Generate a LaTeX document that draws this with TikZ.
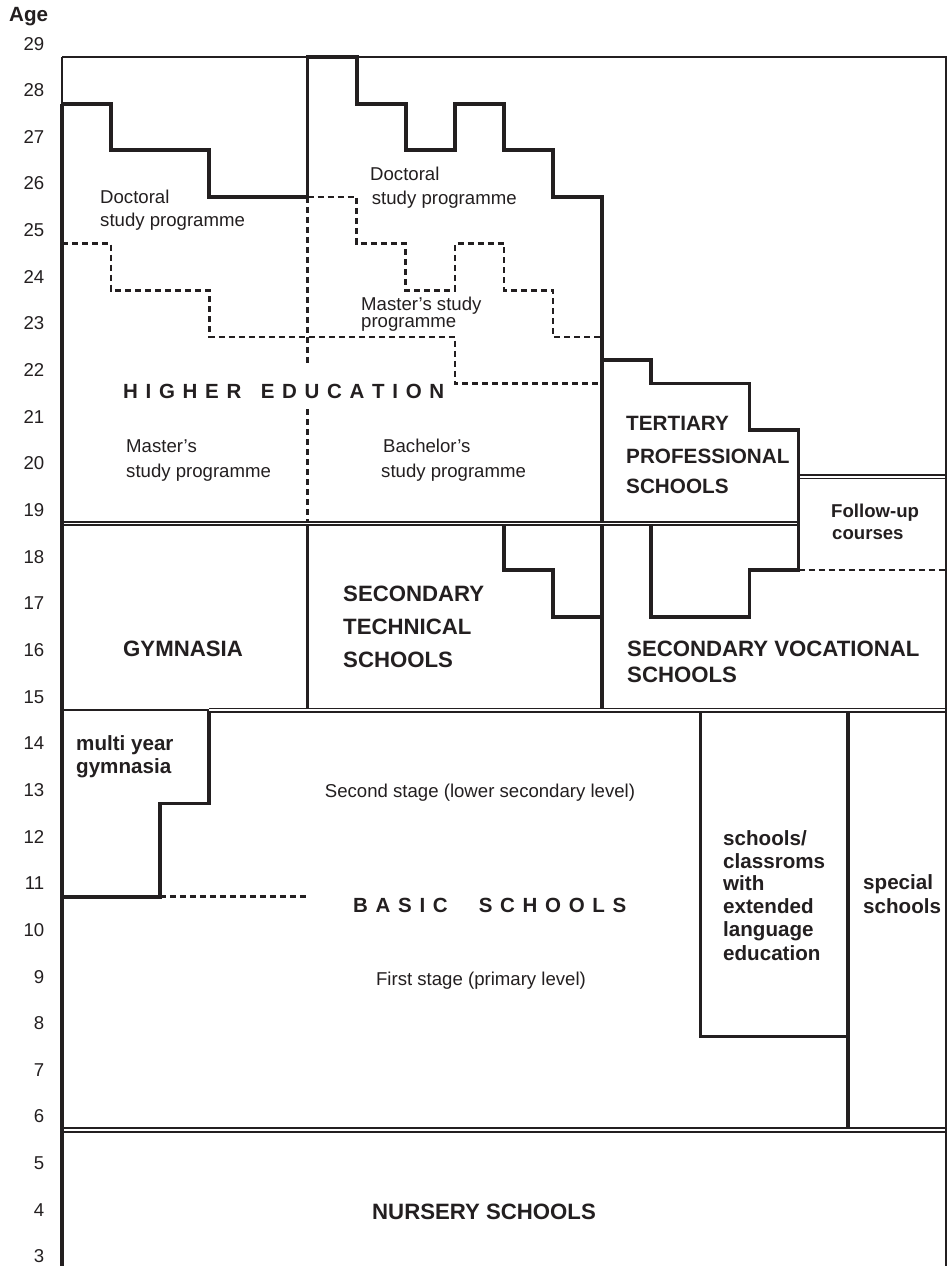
\documentclass[tikz,border=0pt]{standalone}
\usepackage{fontspec}
\setmainfont{Liberation Sans}
\definecolor{ink}{RGB}{35,31,32}
\newcommand\fReg{\fontsize{18.6}{22}\selectfont}
\newcommand\fBold{\fontsize{20.6}{23}\selectfont\bfseries}
\newcommand\fSmallBold{\fontsize{18.6}{22}\selectfont\bfseries}
\newcommand\fCaps{\fontsize{22.2}{26}\selectfont\bfseries}
\newcommand\fTerCaps{\fontsize{20.7}{24}\selectfont\bfseries}
\newcommand\fSpaced{\fontsize{20.5}{24}\selectfont\bfseries}
\newcommand\lsp{\kern7.7pt}
\begin{document}
\begin{tikzpicture}[x=1pt,y=-1pt,
  thinline/.style={draw=ink,line width=1.7pt},
  thickline/.style={draw=ink,line width=3.8pt,line join=miter},
  medline/.style={draw=ink,line width=2.4pt},
  dashline/.style={draw=ink,line width=2.6pt,dash pattern=on 6pt off 4pt},
  dblline/.style={draw=ink,double=white,double distance=1.5pt,line width=1.8pt},
  lbl/.style={inner sep=0pt,text=ink,anchor=base west},
  reg/.style={lbl,font=\fReg},
  bld/.style={lbl,font=\fBold},
  sbld/.style={lbl,font=\fSmallBold},
  caps/.style={lbl,font=\fCaps},
  tercaps/.style={lbl,font=\fTerCaps},
  spaced/.style={lbl,font=\fSpaced},
  agenum/.style={inner sep=0pt,text=ink,anchor=base east,font=\fReg}]
\useasboundingbox (0,0) rectangle (948,1266);
\fill[white] (0,0) rectangle (948,1266);

% ---------- grid lines ----------
\begin{scope}[shift={(62,57)},x=49.1pt,y=-46.65pt]
  % outer frame
  \draw[thinline] (0,0) -- (18,0) -- (18,25.95);
  \draw[thinline] (0,0) -- (0,1);
  \draw[thickline] (0,1) -- (0,25.95);
  % thin top of multi year gymnasia
  \draw[thinline] (0,14) -- (3,14);

  % dashed boundaries
  \draw[dashline] (0,4) -- (1,4) -- (1,5) -- (3,5) -- (3,6) -- (8,6) -- (8,7) -- (11,7);
  \draw[dashline] (5,3) -- (6,3) -- (6,4) -- (7,4) -- (7,5) -- (8,5) -- (8,4) -- (9,4) -- (9,5) -- (10,5) -- (10,6) -- (11,6);
  \draw[dashline] (5,3) -- (5,6.55);
  \draw[dashline] (5,7.55) -- (5,10);
  \draw[dashline] (15,11) -- (18,11);
  \draw[dashline] (2,18) -- (5,18);

  % thick boundaries
  \draw[thickline] (0,1) -- (1,1) -- (1,2) -- (3,2) -- (3,3) -- (5,3);
  \draw[thickline] (5,3) -- (5,0) -- (6,0) -- (6,1) -- (7,1) -- (7,2) -- (8,2) -- (8,1) -- (9,1) -- (9,2) -- (10,2) -- (10,3) -- (11,3) -- (11,14);
  \draw[thickline] (11,6.5) -- (12,6.5) -- (12,7) -- (14,7) -- (14,8) -- (15,8) -- (15,11) -- (14,11) -- (14,12) -- (12,12) -- (12,10);
  \draw[thickline] (5,10) -- (5,14);
  \draw[thickline] (9,10) -- (9,11) -- (10,11) -- (10,12) -- (11,12);
  \draw[thickline] (3,14) -- (3,16) -- (2,16) -- (2,18) -- (0,18);
  \draw[thickline] (16,14) -- (16,23);
  \draw[medline] (13,14) -- (13,21) -- (16,21);

  % double lines
  \draw[dblline] (0.04,10) -- (14.96,10);
  \draw[dblline] (15.04,9) -- (17.985,9);
  \draw[dblline] (3,14) -- (17.985,14);
  \draw[dblline] (0.04,23) -- (17.985,23);
\end{scope}

% ---------- age axis ----------
\node[lbl,font=\fBold] (age) at (9,21.7) {Age};
\foreach \a in {29,28,...,3}{
  \node[agenum] (n\a) at (44.5,{50+(29-\a)*46.65}) {\a};
}

% ---------- higher education ----------
\node[reg] (docL1) at (100,203.5) {Doctoral};
\node[reg] (docL2) at (100,226.5) {study programme};
\node[reg] (docM1) at (370,180) {Doctoral};
\node[reg] (docM2) at (371.7,204) {study programme};
\node[reg] (masM1) at (361,310.7) {Master's study};
\node[reg] (masM2) at (361,327.8) {programme};
\node[spaced] (he) at (123,398) {H\lsp I\lsp G\lsp H\lsp E\lsp R\kern19.4pt E\lsp D\lsp U\lsp C\lsp A\lsp T\lsp I\lsp O\lsp N};
\node[reg] (masL1) at (126,452.3) {Master's};
\node[reg] (masL2) at (126,477.3) {study programme};
\node[reg] (bac1) at (383,452.3) {Bachelor's};
\node[reg] (bac2) at (381,477.3) {study programme};

% ---------- tertiary / follow-up ----------
\node[tercaps] (ter1) at (626,430.7) {TERTIARY};
\node[tercaps] (ter2) at (626,463.3) {PROFESSIONAL};
\node[tercaps] (ter3) at (626,493.3) {SCHOOLS};
\node[sbld] (fol1) at (831,517.3) {Follow-up};
\node[sbld] (fol2) at (832,539.3) {courses};

% ---------- secondary ----------
\node[caps] (gym) at (123,656.7) {GYMNASIA};
\node[caps] (tec1) at (343,601.7) {SECONDARY};
\node[caps] (tec2) at (343,634) {TECHNICAL};
\node[caps] (tec3) at (343,667.3) {SCHOOLS};
\node[caps] (voc1) at (627,656) {SECONDARY VOCATIONAL};
\node[caps] (voc2) at (627,682.7) {SCHOOLS};

% ---------- basic schools ----------
\node[bld] (mul1) at (76,750.5) {multi year};
\node[bld] (mul2) at (76,773) {gymnasia};
\node[reg,anchor=base] (sec) at (480,797) {Second stage (lower secondary level)};
\node[spaced] (bas) at (353,912) {B\lsp A\lsp S\lsp I\lsp C\kern31pt S\lsp C\lsp H\lsp O\lsp O\lsp L\lsp S};
\node[reg,anchor=base] (fst) at (481,985) {First stage (primary level)};
\node[bld] (ext1) at (723,845) {schools/};
\node[bld] (ext2) at (723,868.3) {classroms};
\node[bld] (ext3) at (723,890) {with};
\node[bld] (ext4) at (723,913.3) {extended};
\node[bld] (ext5) at (723,936.7) {language};
\node[bld] (ext6) at (723,960) {education};
\node[bld] (spe1) at (863,889.3) {special};
\node[bld] (spe2) at (863,913.3) {schools};

% ---------- nursery ----------
\node[caps] (nur) at (372,1219) {NURSERY SCHOOLS};
\end{tikzpicture}
\end{document}
